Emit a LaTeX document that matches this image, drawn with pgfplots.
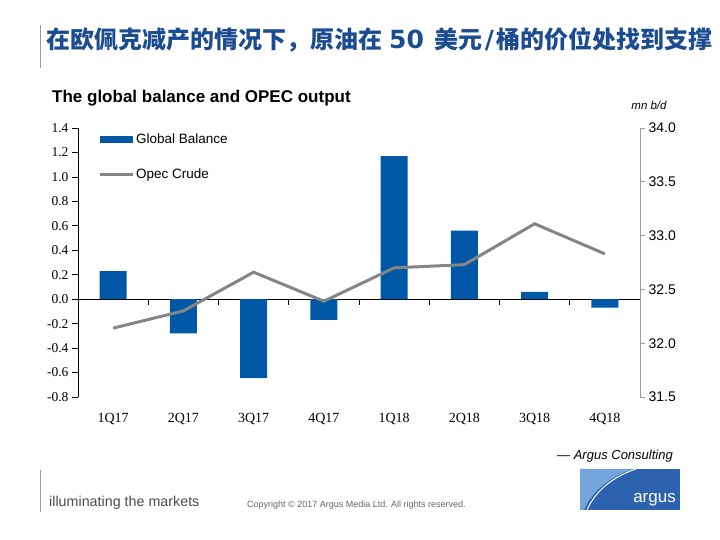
\documentclass[border=0pt]{standalone}
\usepackage{fontspec}
\usepackage{pgfplots}
\pgfplotsset{compat=1.18}
\setmainfont{Liberation Sans}
\newfontfamily\cjk{Noto Sans CJK SC}
\newfontfamily\serifnum{Liberation Serif}
\newfontfamily\dejavu{DejaVu Sans}
\definecolor{barblue}{HTML}{0057A6}
\definecolor{linegray}{HTML}{858585}
\definecolor{titleblue}{HTML}{1B4B90}
\definecolor{axisgray}{HTML}{9A9A9A}
\definecolor{logodark}{HTML}{2C62B0}
\definecolor{logolight}{HTML}{72A6DC}
\begin{document}
\begin{tikzpicture}
\useasboundingbox (0pt,0pt) rectangle (720pt,540pt);
% header
\draw[axisgray, line width=0.8pt] (40pt,515pt) -- (40pt,472pt);
\node[anchor=west, inner sep=0pt, text=titleblue] at (46pt,500pt)
  {\cjk\bfseries\fontsize{24}{26}\selectfont 在欧佩克减产的情况下，原油在\hspace{7pt}{\dejavu\bfseries\fontsize{25}{26}\selectfont 50}\hspace{11pt}美元\hspace{2pt}{\dejavu\bfseries\fontsize{25}{26}\selectfont /}\hspace{2pt}桶的价位处找到支撑};
% chart title
\node[anchor=west, inner sep=0pt] at (52pt,442pt) {\bfseries\fontsize{17}{19}\selectfont The global balance and OPEC output};
\node[anchor=center, inner sep=0pt] at (649pt,435pt) {\itshape\fontsize{11.5}{12}\selectfont mn b/d};

\begin{axis}[
  at={(78pt,143pt)}, anchor=south west, scale only axis,
  width=562pt, height=269pt,
  xmin=-0.5, xmax=7.5, ymin=-0.8, ymax=1.4,
  axis y line*=left, axis x line*=bottom,
  x axis line style={draw=none},
  y axis line style={black, line width=0.8pt},
  xtick={0,1,2,3,4,5,6,7},
  xticklabels={1Q17,2Q17,3Q17,4Q17,1Q18,2Q18,3Q18,4Q18},
  xtick style={draw=none},
  xticklabel style={font=\serifnum\fontsize{14}{15}\selectfont, yshift=-7pt},
  ytick={-0.8,-0.6,-0.4,-0.2,0,0.2,0.4,0.6,0.8,1.0,1.2,1.4},
  yticklabels={-0.8,-0.6,-0.4,-0.2,0.0,0.2,0.4,0.6,0.8,1.0,1.2,1.4},
  yticklabel style={font=\serifnum\fontsize{13.5}{14}\selectfont, black},
  ytick style={black, line width=0.8pt},
  tick align=outside, major tick length=6pt,
  extra y ticks={0}, extra y tick labels={},
  extra y tick style={grid=major, major grid style={black, line width=1.3pt}},
  legend cell align=left,
  legend style={at={(0.03,0.995)}, anchor=north west, draw=none, fill=none,
    font=\fontsize{13.5}{15}\selectfont, row sep=20pt},
]
\addplot[ybar, bar width=27pt, fill=barblue, draw=none,
  legend image code/.code={\fill[barblue] (0pt,-3.5pt) rectangle (33pt,3.5pt);}]
  coordinates {(0,0.23) (1,-0.28) (2,-0.645) (3,-0.17) (4,1.17) (5,0.56) (6,0.06) (7,-0.07)};
\addlegendentry{Global Balance}
\addlegendimage{legend image code/.code={\draw[linegray, line width=3pt] (0pt,0pt) -- (33pt,0pt);}}
\addlegendentry{Opec Crude}
\pgfplotsinvokeforeach{0.5,1.5,2.5,3.5,4.5,5.5,6.5,7.5}{
  \draw[black, line width=1pt] (axis cs:#1,0) -- ++(0pt,-6pt);
}
\end{axis}

\begin{axis}[
  at={(78pt,143pt)}, anchor=south west, scale only axis,
  width=562pt, height=269pt,
  xmin=-0.5, xmax=7.5, ymin=31.5, ymax=34,
  axis y line*=right, axis x line=none, xtick=\empty,
  y axis line style={axisgray, line width=0.8pt},
  ytick={31.5,32,32.5,33,33.5,34},
  yticklabels={31.5,32.0,32.5,33.0,33.5,34.0},
  yticklabel style={font=\fontsize{14}{15}\selectfont, black},
  ytick style={axisgray, line width=0.8pt},
  tick align=outside, major tick length=5pt,
]
\addplot[linegray, line width=3pt, no markers]
  coordinates {(0,32.14) (1,32.30) (2,32.66) (3,32.39) (4,32.70) (5,32.73) (6,33.11) (7,32.83)};
\end{axis}

% source
\node[anchor=east, inner sep=0pt] at (673pt,84pt) {\itshape\fontsize{13}{14}\selectfont --- Argus Consulting};
% footer
\draw[axisgray, line width=0.8pt] (40pt,70pt) -- (40pt,28pt);
\node[anchor=west, inner sep=0pt, text=black!70] at (49pt,37pt) {\fontsize{14.3}{16}\selectfont illuminating the markets};
\node[anchor=west, inner sep=0pt, text=black!60] at (247pt,35pt) {\fontsize{9}{10}\selectfont Copyright \textcopyright{} 2017 Argus Media Ltd. All rights reserved.};
% logo
\fill[logodark] (580pt,30pt) rectangle (680pt,71pt);
\fill[logolight] (580pt,71pt) -- (633pt,71pt) .. controls (606pt,62pt) and (591pt,46pt) .. (584pt,30pt) -- (580pt,30pt) -- cycle;
\draw[white, line width=1pt] (636pt,71pt) .. controls (609pt,62pt) and (594pt,46pt) .. (587pt,30pt);
\node[anchor=south east, inner sep=0pt, text=white] at (676pt,34pt) {\fontsize{17}{18}\selectfont argus};
\end{tikzpicture}
\end{document}
